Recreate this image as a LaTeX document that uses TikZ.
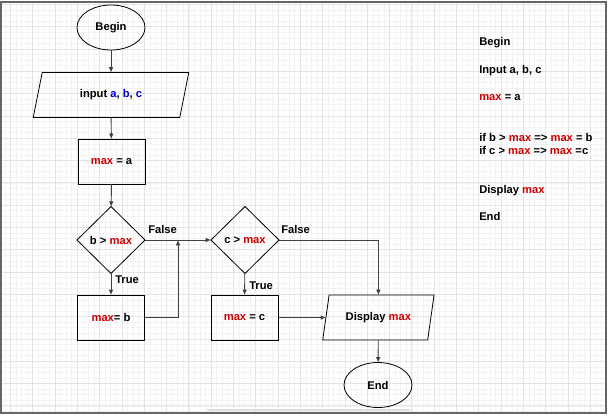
\documentclass[tikz,border=0pt]{standalone}
\usepackage{fontspec}
\setmainfont{Liberation Sans}
\usetikzlibrary{shapes.geometric,arrows.meta,calc}

\definecolor{maxred}{HTML}{CC0000}
\definecolor{varblue}{HTML}{0000CC}
\definecolor{linegray}{HTML}{404040}
\definecolor{gridmajor}{HTML}{E4E4E4}
\definecolor{gridminor}{HTML}{F3F3F3}

\newcommand{\mx}{\textcolor{maxred}{max}}
\newcommand{\vb}[1]{\textcolor{varblue}{#1}}

\tikzset{
  terminal/.style={ellipse, draw, line width=0.6pt, minimum width=51pt, minimum height=33.75pt, inner sep=0pt, outer sep=0pt},
  process/.style={rectangle, draw, line width=0.6pt, minimum width=50.25pt, minimum height=33.75pt, outer sep=0pt},
  decision/.style={diamond, draw, line width=0.6pt, minimum width=51pt, minimum height=50.25pt, inner sep=0pt, outer sep=0pt},
  iobox/.style={rectangle, minimum height=33.75pt, outer sep=0pt},
  flow/.style={-{Latex[length=4pt,width=3.5pt]}, linegray, line width=0.7pt},
  lbl/.style={anchor=west, inner sep=0pt},
}

\begin{document}
\begin{tikzpicture}[x=0.75pt, y=-0.75pt, font=\fontsize{8.4}{10}\selectfont\bfseries]

\useasboundingbox (0,0) rectangle (610,415);

% grid
\begin{scope}
\clip (1,2) rectangle (606,413);
\foreach \i in {0,...,107}{
\draw[gridminor, line width=0.4pt] (4.825+5.575*\i,2) -- (4.825+5.575*\i,413);}
\foreach \j in {0,...,73}{
\draw[gridminor, line width=0.4pt] (1,4.4+5.575*\j) -- (606,4.4+5.575*\j);}
\foreach \i in {0,...,26}{
\draw[gridmajor, line width=0.5pt] (10.4+22.3*\i,2) -- (10.4+22.3*\i,413);}
\foreach \j in {0,...,18}{
\draw[gridmajor, line width=0.5pt] (1,4.4+22.3*\j) -- (606,4.4+22.3*\j);}
\end{scope}
\draw[gray!25, line width=1.5pt] (207,410) -- (410,410);
\draw[gray!80!black, line width=0.8pt] (1,2) rectangle (606,413);

% flowchart
\node[terminal] (begin) at (111,27.5) {Begin};
\node[iobox, minimum width=109.9pt] (input) at (111,95) {input \vb{a}, \vb{b}, \vb{c}};
\draw[line width=0.6pt] ($(input.north west)+(4.5,0)$) -- ($(input.north east)+(4.5,0)$)
  -- ($(input.south east)+(-4.5,0)$) -- ($(input.south west)+(-4.5,0)$) -- cycle;
\node[process] (maxa) at (111.5,161.5) {\mx{} = a};
\node[decision] (ifb) at (111,240) {b > \mx};
\node[process] (maxb) at (111,317.5) {\mx{}= b};
\node[decision] (ifc) at (245,240) {c > \mx};
\node[process] (maxc) at (244.5,317.5) {\mx{} = c};
\node[iobox, minimum width=78.7pt] (display) at (378.4,317.5) {Display \mx};
\draw[line width=0.6pt] ($(display.north west)+(3.2,0)$) -- ($(display.north east)+(3.2,0)$)
  -- ($(display.south east)+(-3.2,0)$) -- ($(display.south west)+(-3.2,0)$) -- cycle;
\node[terminal] (end) at (378,385) {End};
\coordinate (joinb) at (178,240);

\draw[flow] (begin) -- (input);
\draw[flow] (input) -- (maxa);
\draw[flow] (maxa) -- (ifb);
\draw[flow] (ifb) -- (maxb);
\draw[flow] (ifb.east) -- (ifc.west);
\draw[flow] (maxb.east) -| (joinb);
\draw[flow] (ifc) -- (maxc);
\draw[flow] (ifc.east) -| (display.north);
\draw[flow] (maxc.east) -- (display.west);
\draw[flow] (display) -- (end);

\node[lbl] (trueb) at (115,279.5) {True};
\node[lbl] (falseb) at (148,229.5) {False};
\node[lbl] (truec) at (249,285.5) {True};
\node[lbl] (falsec) at (281,229.5) {False};

% pseudocode
\node[lbl] (sbegin) at (479,43) {Begin};
\node[lbl] (sinput) at (479,70.5) {Input a, b, c};
\node[lbl] (sinit) at (479,97.5) {\mx{} = a};
\node[lbl] (sifb) at (479,137) {if b > \mx{} => \mx{} = b};
\node[lbl] (sifc) at (479,150.5) {if c > \mx{} => \mx{} =c};
\node[lbl] (sshow) at (479,190.5) {Display \mx};
\node[lbl] (send) at (479,216.5) {End};

\end{tikzpicture}
\end{document}
